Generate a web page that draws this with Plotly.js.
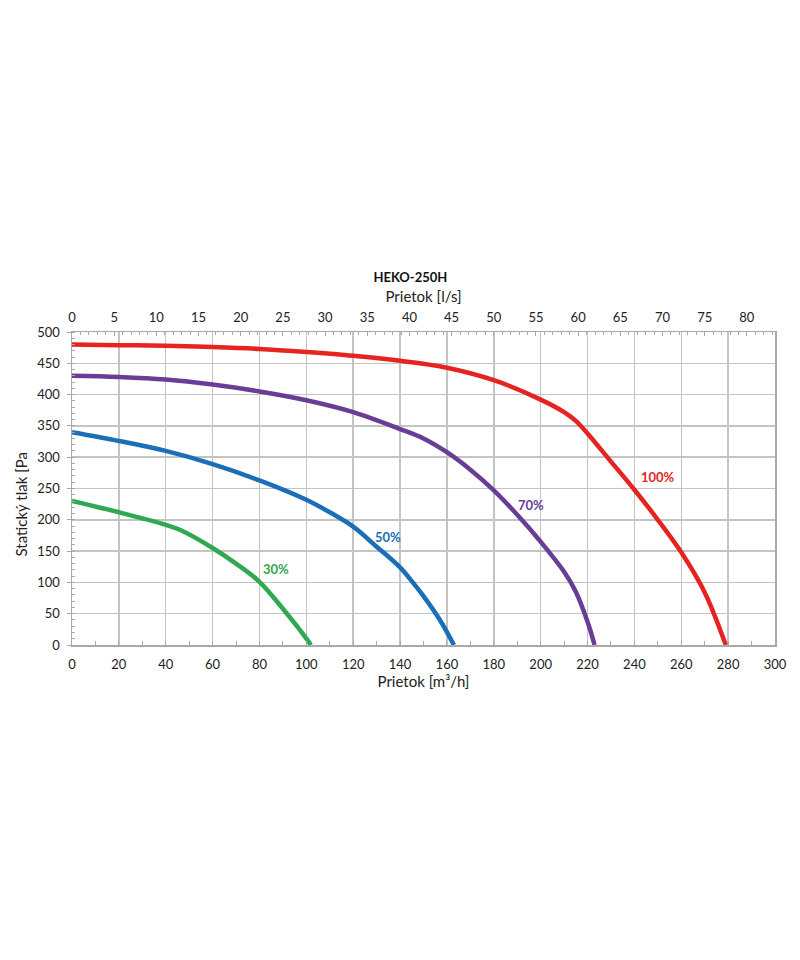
<!DOCTYPE html>
<html>
<head>
<meta charset="utf-8">
<script src="https://cdn.plot.ly/plotly-3.0.1.min.js"></script>
<style>
  body { margin: 0; background: #fff; }
  #plot { width: 800px; height: 960px; }
</style>
</head>
<body>
<div id="plot"></div>
<script>
// fan curves HEKO-250H, flow in m3/h, static pressure in Pa
var flow100 = [0, 20, 40, 60, 80, 100, 120, 140, 160, 180, 200, 210, 215, 220, 230, 240, 250, 260, 270, 279];
var pres100 = [480, 479, 478, 476, 473, 468, 462, 454, 443, 423, 392, 372, 358, 338, 293, 248, 200, 148, 84, 0];

var flow70 = [0, 20, 40, 60, 80, 100, 120, 140, 150, 160, 170, 180, 190, 200, 210, 215, 220, 223];
var pres70 = [430, 428, 424, 416, 405, 391, 372, 345, 330, 308, 280, 247, 208, 165, 117, 85, 37, 0];

var flow50 = [0, 20, 40, 60, 80, 100, 110, 120, 130, 140, 145, 150, 157, 163];
var pres50 = [340, 326, 310, 289, 263, 232, 212, 189, 157, 124, 102, 78, 40, 0];

var flow30 = [0, 20, 40, 46, 60, 70, 80, 90, 96, 102];
var pres30 = [230, 212, 192, 184, 155, 130, 101, 58, 30, 0];

var labels = ['100%', '70%', '50%', '30%'];
var colors = ['#e52421', '#693c96', '#1b6eb7', '#2fa84f'];
var labelX = [250, 196, 135, 87];
var labelY = [268, 224, 172, 121];

var font = 'Lato, "Open Sans", sans-serif';
var gridColor = '#c4c4c4';

var flows = [flow100, flow70, flow50, flow30];
var pressures = [pres100, pres70, pres50, pres30];

var data = [];
for (var i = 0; i < flows.length; i++) {
  data.push({
    x: flows[i],
    y: pressures[i],
    type: 'scatter',
    mode: 'lines',
    name: labels[i],
    line: { color: colors[i], width: 4.5, shape: 'spline', smoothing: 1 },
    hoverinfo: 'skip'
  });
}

// invisible trace so the l/s axis gets drawn
data.push({
  x: [0, 300 / 3.6],
  y: [null, null],
  xaxis: 'x2',
  type: 'scatter',
  mode: 'lines',
  showlegend: false,
  hoverinfo: 'skip'
});

var annotations = [];
for (var i = 0; i < labels.length; i++) {
  annotations.push({
    x: labelX[i],
    y: labelY[i],
    xref: 'x',
    yref: 'y',
    text: '<b>' + labels[i] + '</b>',
    showarrow: false,
    font: { family: font, size: 13, color: colors[i] }
  });
}

// y title placed by hand, it sits a bit below the plot middle
annotations.push({
  x: -0.073,
  y: 0.448,
  xref: 'paper',
  yref: 'paper',
  text: 'Statický tlak [Pa',
  textangle: -90,
  showarrow: false,
  xanchor: 'center',
  yanchor: 'middle',
  font: { family: font, size: 15, color: '#222' }
});

var layout = {
  width: 800,
  height: 960,
  showlegend: false,
  paper_bgcolor: '#ffffff',
  plot_bgcolor: '#ffffff',
  margin: { l: 72, r: 25, t: 332, b: 315 },
  font: { family: font, size: 13, color: '#222' },
  title: {
    text: '<b>HEKO-250H</b>',
    x: 0.513,
    xanchor: 'center',
    y: 1 - 277 / 960,
    yanchor: 'middle',
    font: { family: font, size: 13, color: '#111' }
  },
  xaxis: {
    range: [0, 300],
    dtick: 20,
    tick0: 0,
    showgrid: true,
    gridcolor: gridColor,
    gridwidth: 1.5,
    zeroline: false,
    showline: true,
    linecolor: '#a8a8a8',
    linewidth: 1.5,
    mirror: true,
    ticks: 'inside',
    ticklen: 4,
    tickcolor: '#a8a8a8',
    ticklabelstandoff: 7,
    minor: { dtick: 10, ticks: 'inside', ticklen: 4, tickcolor: '#a8a8a8', showgrid: false },
    tickfont: { family: font, size: 13, color: '#222' },
    title: { text: 'Prietok [m³/h]', font: { family: font, size: 15, color: '#222' }, standoff: 3 }
  },
  xaxis2: {
    overlaying: 'x',
    side: 'top',
    range: [0, 300 / 3.6],
    dtick: 5,
    tick0: 0,
    showgrid: false,
    zeroline: false,
    ticks: 'inside',
    ticklen: 4,
    tickcolor: '#a8a8a8',
    ticklabelstandoff: 6,
    minor: { dtick: 1, ticks: 'inside', ticklen: 3, tickcolor: '#a8a8a8', showgrid: false },
    tickfont: { family: font, size: 13, color: '#222' },
    title: { text: 'Prietok [l/s]', font: { family: font, size: 15, color: '#222' }, standoff: 3 }
  },
  yaxis: {
    range: [0, 500],
    dtick: 50,
    tick0: 0,
    showgrid: true,
    gridcolor: gridColor,
    gridwidth: 1.5,
    zeroline: false,
    showline: true,
    linecolor: '#a8a8a8',
    linewidth: 1.5,
    mirror: true,
    ticks: 'outside',
    ticklen: 4,
    tickcolor: '#a8a8a8',
    ticklabelstandoff: 4,
    minor: { dtick: 10, ticks: 'inside', ticklen: 3, tickcolor: '#a8a8a8', showgrid: false },
    tickfont: { family: font, size: 13, color: '#222' }
  },
  annotations: annotations
};

Plotly.newPlot('plot', data, layout, { displayModeBar: false, staticPlot: true });
</script>
</body>
</html>
